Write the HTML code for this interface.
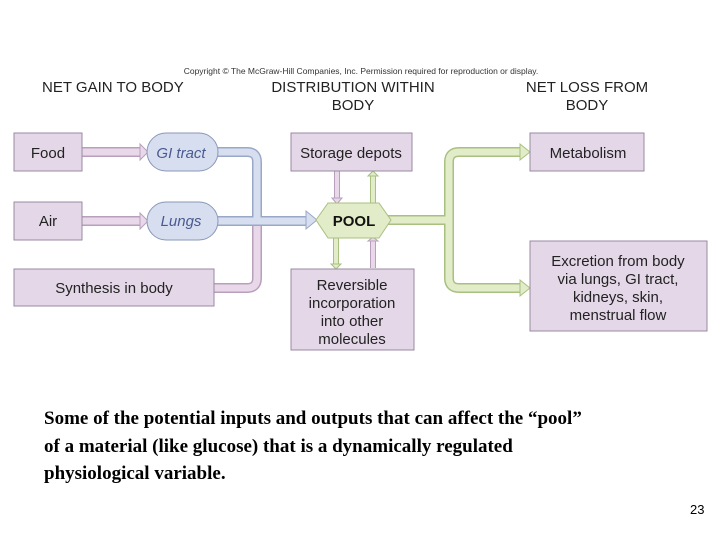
<!DOCTYPE html>
<html><head><meta charset="utf-8"><style>
html,body{margin:0;padding:0;background:#fff;width:720px;height:540px;overflow:hidden}
svg{position:absolute;left:0;top:0}
.cap{position:absolute;left:44px;top:405px;font:bold 19px "Liberation Serif",serif;line-height:27.5px;color:#000;width:676px;white-space:nowrap}
.pg{position:absolute;left:690px;top:502px;font:13px "Liberation Sans",sans-serif}
</style></head><body>
<svg width="720" height="540" viewBox="0 0 720 540" font-family="Liberation Sans, sans-serif">
<text x="361" y="74" font-size="8.5" text-anchor="middle" fill="#333">Copyright © The McGraw-Hill Companies, Inc. Permission required for reproduction or display.</text>
<g font-size="15" fill="#222">
<text x="42" y="92">NET GAIN TO BODY</text>
<text x="353" y="92" text-anchor="middle">DISTRIBUTION WITHIN</text>
<text x="353" y="110" text-anchor="middle">BODY</text>
<text x="587" y="92" text-anchor="middle">NET LOSS FROM</text>
<text x="587" y="110" text-anchor="middle">BODY</text>
</g>
<g fill="none" stroke-linejoin="round">
<g stroke="#b8a0bc" stroke-width="10"><path d="M82 152H142M82 221H142"/><path d="M214 288H247Q257 288 257 278V220"/></g>
<g stroke="#e8d8ea" stroke-width="7"><path d="M82 152H142M82 221H142"/><path d="M214 288H247Q257 288 257 278V220"/></g>
<g stroke="#9aa8c8" stroke-width="10"><path d="M218 152H247Q257 152 257 162V221H308M218 221H257"/></g>
<g stroke="#d6def0" stroke-width="7"><path d="M218 152H247Q257 152 257 162V221H308M218 221H257"/></g>
<g stroke="#a8c080" stroke-width="10"><path d="M388 220H449"/><path d="M522 152H459Q449 152 449 162V278Q449 288 459 288H522"/></g>
<g stroke="#e2ecc8" stroke-width="7"><path d="M388 220H449"/><path d="M522 152H459Q449 152 449 162V278Q449 288 459 288H522"/></g>
<g stroke="#b8a0bc" stroke-width="6"><path d="M337 171V200M373 268V240"/></g>
<g stroke="#e8d8ea" stroke-width="4"><path d="M337 171V200M373 268V240"/></g>
<g stroke="#a8c080" stroke-width="6"><path d="M373 203V174M336 238V265"/></g>
<g stroke="#e2ecc8" stroke-width="4"><path d="M373 203V174M336 238V265"/></g>
</g>
<g stroke-width="1">
<path d="M140 144L148 152L140 160Z M140 213L148 221L140 229Z" fill="#e8d8ea" stroke="#b8a0bc"/>
<path d="M306 211L317 220L306 229Z" fill="#d6def0" stroke="#9aa8c8"/>
<path d="M520 144L530 152L520 160Z M520 280L530 288L520 296Z" fill="#e2ecc8" stroke="#a8c080"/>
<path d="M332 198L337 204L342 198Z M368 241L373 237L378 241Z" fill="#e8d8ea" stroke="#b8a0bc"/>
<path d="M368 176L373 171L378 176Z M331 264L336 269L341 264Z" fill="#e2ecc8" stroke="#a8c080"/>
</g>
<g fill="#e4d8e8" stroke="#9a8aa0" stroke-width="1">
<rect x="14" y="133" width="68" height="38"/>
<rect x="14" y="202" width="68" height="38"/>
<rect x="14" y="269" width="200" height="37"/>
<rect x="291" y="133" width="121" height="38"/>
<rect x="291" y="269" width="123" height="81"/>
<rect x="530" y="133" width="114" height="38"/>
<rect x="530" y="241" width="177" height="90"/>
</g>
<g fill="#d6def0" stroke="#8a98b8">
<rect x="147" y="133" width="71" height="38" rx="19"/>
<rect x="147" y="202" width="71" height="38" rx="19"/>
</g>
<path d="M316 220L328 203H379L391 220L379 238H328Z" fill="#e2ecc8" stroke="#a8c080"/>
<g font-size="15" fill="#222" text-anchor="middle">
<text x="48" y="158">Food</text>
<text x="48" y="226">Air</text>
<text x="114" y="293">Synthesis in body</text>
<text x="351" y="158">Storage depots</text>
<text x="352" y="290">Reversible</text>
<text x="352" y="308">incorporation</text>
<text x="352" y="326">into other</text>
<text x="352" y="344">molecules</text>
<text x="588" y="158">Metabolism</text>
<text x="618" y="266">Excretion from body</text>
<text x="618" y="284">via lungs, GI tract,</text>
<text x="618" y="302">kidneys, skin,</text>
<text x="618" y="320">menstrual flow</text>
<text x="354" y="226" font-weight="bold" fill="#111">POOL</text>
<g font-style="italic" fill="#4a5a90">
<text x="181" y="158">GI tract</text>
<text x="181" y="226">Lungs</text>
</g>
</g>
</svg>
<div class="cap">Some of the potential inputs and outputs that can affect the “pool”<br>of a material (like glucose) that is a dynamically regulated<br>physiological variable.</div>
<div class="pg">23</div>
</body></html>
